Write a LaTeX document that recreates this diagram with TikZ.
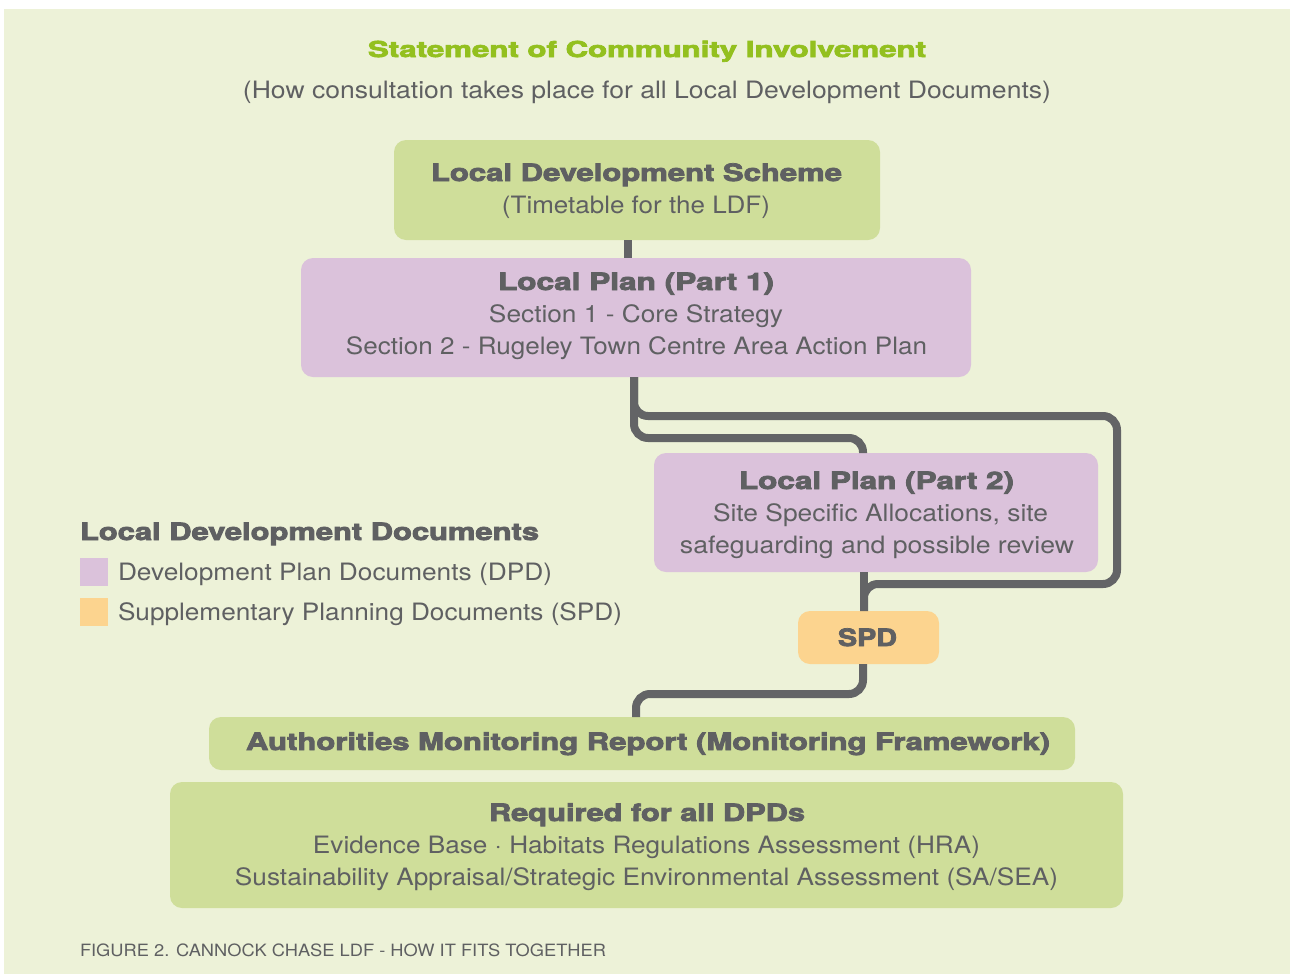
\documentclass[tikz,border=0pt]{standalone}
\usepackage{fontspec}
\usepackage{graphicx}
\setmainfont{TeX Gyre Heros}[BoldFeatures={FakeBold=3}]
\definecolor{bg}{HTML}{EDF2D8}
\definecolor{boxgreen}{HTML}{CFDE9A}
\definecolor{boxpink}{HTML}{DBC2DB}
\definecolor{boxorange}{HTML}{FCD48F}
\definecolor{txt}{HTML}{5F6062}
\definecolor{titlegreen}{HTML}{93C01F}
\definecolor{linegray}{HTML}{636466}
\newcommand\fw[2]{\resizebox{#1bp}{\height}{#2}}
\tikzset{
  boxbase/.style={inner sep=0pt, outer sep=0pt, rounded corners=12bp, anchor=north west},
  gbox/.style={boxbase, fill=boxgreen},
  pbox/.style={boxbase, fill=boxpink},
  obox/.style={boxbase, fill=boxorange},
  conn/.style={draw=linegray, line width=8bp, rounded corners=14bp},
  lbl/.style={inner sep=0pt, outer sep=0pt, anchor=base, text=txt},
  hd/.style={lbl, font=\fontsize{24}{28}\selectfont\bfseries},
  tx/.style={lbl, font=\fontsize{24}{28}\selectfont},
  lhd/.style={lbl, anchor=base west, font=\fontsize{24}{28}\selectfont\bfseries},
  ltx/.style={lbl, anchor=base west, font=\fontsize{24}{28}\selectfont},
}
\begin{document}
\begin{tikzpicture}[x=1bp, y=-1bp]
\useasboundingbox (0,0) rectangle (1290,974);
\fill[white] (0,0) rectangle (1290,974);
\fill[bg] (4,9) rectangle (1290,974);

% boxes
\node[gbox, minimum width=486bp, minimum height=100bp] (lds) at (394,140) {};
\node[pbox, minimum width=670bp, minimum height=119bp] (lp1) at (301,258) {};
\node[pbox, minimum width=444bp, minimum height=119bp] (lp2) at (654,453) {};
\node[obox, minimum width=141bp, minimum height=53bp] (spd) at (798,611) {};
\node[gbox, minimum width=866bp, minimum height=53bp] (amr) at (209,717) {};
\node[gbox, minimum width=953bp, minimum height=126bp] (req) at (170,782) {};

% legend squares
\node[boxbase, rounded corners=0pt, fill=boxpink, minimum width=28bp, minimum height=28bp] (legp) at (80,558) {};
\node[boxbase, rounded corners=0pt, fill=boxorange, minimum width=28bp, minimum height=28bp] (lego) at (80,598) {};

% connectors
\draw[conn] (lds.south -| 628,0) -- (lp1.north -| 628,0);
\draw[conn] (lp1.south -| 634,0) -- (634,416) -- (1117,416) -- (1117,584) -- (864,584) -- (spd.north -| 864,0);
\draw[conn] (lp1.south -| 634,0) -- (634,438) -- (863,438) -- (lp2.north -| 863,0);
\draw[conn] (lp2.south -| 864,0) -- (spd.north -| 864,0);
\draw[conn] (spd.south -| 863,0) -- (863,694) -- (636,694) -- (amr.north -| 636,0);

% titles
\node[hd, text=titlegreen, font=\fontsize{22}{26}\selectfont\bfseries] (title) at (647,57) {\fw{558}{Statement of Community Involvement}};
\node[tx] (subtitle) at (647,98) {\fw{808}{(How consultation takes place for all Local Development Documents)}};

% LDS
\node[hd] (ldst) at (636.5,181) {\fw{411}{Local Development Scheme}};
\node[tx] (ldss) at (636,213) {\fw{268}{(Timetable for the LDF)}};

% LP1
\node[hd] (lp1t) at (636,290) {\fw{276}{Local Plan (Part 1)}};
\node[tx] (lp1a) at (636,322) {\fw{294}{Section 1 - Core Strategy}};
\node[tx] (lp1b) at (636.5,354) {\fw{581}{Section 2 - Rugeley Town Centre Area Action Plan}};

% LP2
\node[hd] (lp2t) at (876.5,489) {\fw{275}{Local Plan (Part 2)}};
\node[tx] (lp2a) at (880.5,521) {\fw{335}{Site Specific Allocations, site}};
\node[tx] (lp2b) at (877,553) {\fw{394}{safeguarding and possible review}};

% SPD
\node[hd] (spdt) at (867.5,646) {\fw{59}{SPD}};

% legend
\node[lhd] (legt) at (80,540) {\fw{459}{Local Development Documents}};
\node[ltx] (legpt) at (118,580) {\fw{434}{Development Plan Documents (DPD)}};
\node[ltx] (legot) at (118,620) {\fw{504}{Supplementary Planning Documents (SPD)}};

% AMR
\node[hd] (amrt) at (648,750) {\fw{804}{Authorities Monitoring Report (Monitoring Framework)}};

% Required
\node[hd] (reqt) at (647,821) {\fw{316}{Required for all DPDs}};
\node[tx] (reqa) at (646.5,853) {\fw{667}{Evidence Base · Habitats Regulations Assessment (HRA)}};
\node[tx] (reqb) at (646.5,885) {\fw{823}{Sustainability Appraisal/Strategic Environmental Assessment (SA/SEA)}};

% caption
\node[ltx, font=\fontsize{17}{20}\selectfont] (cap) at (80,956) {\fw{526}{FIGURE 2. CANNOCK CHASE LDF - HOW IT FITS TOGETHER}};
\end{tikzpicture}
\end{document}
